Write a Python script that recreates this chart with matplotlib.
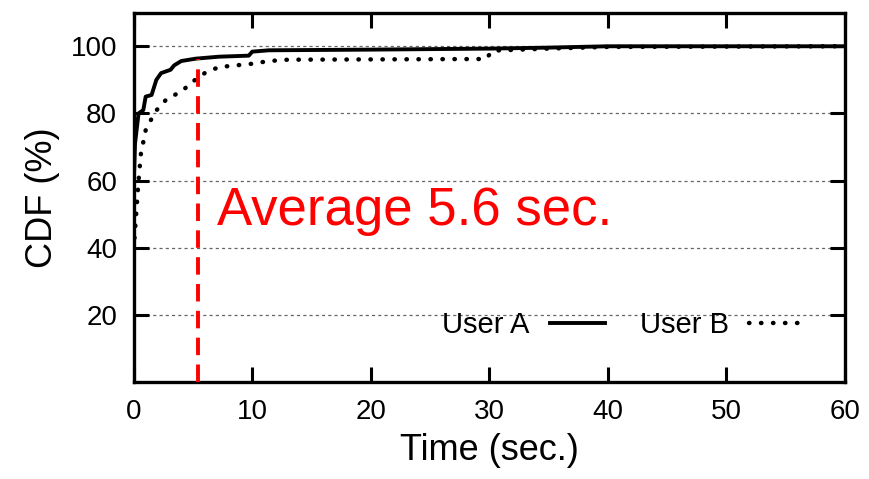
import matplotlib
matplotlib.use("Agg")
import matplotlib.pyplot as plt

plt.rcParams["font.family"] = ["Liberation Sans", "DejaVu Sans"]

# CDF curves (time in sec., CDF in %)
user_a_x = [0, 0, 0.1, 0.4, 0.8, 1.0, 1.5, 1.9, 2.3, 3.1, 3.4, 4.0, 5.2, 7.2, 9.7, 10.0, 11.4, 20, 30, 35, 40, 60]
user_a_y = [0, 60, 71, 80, 81, 85, 85.5, 90, 92, 93, 94.3, 95.6, 96.3, 96.9, 97.2, 98.4, 98.8, 99.0, 99.3, 99.6, 100, 100]

user_b_x = [0, 0, 0.2, 0.4, 0.6, 1.0, 1.8, 2.7, 4.1, 5.1, 6.1, 7.2, 10.0, 11.4, 13, 29.7, 30.3, 35, 40, 60]
user_b_y = [0, 40, 50, 60, 68, 75, 80.5, 84, 86.8, 89.8, 92.3, 93.8, 94.8, 95.6, 96.0, 96.2, 98.7, 99.3, 99.8, 100]

avg_x = 5.4
avg_y = 96.3
avg_label = "Average 5.6 sec."

x_ticks = [0, 10, 20, 30, 40, 50, 60]
y_ticks = [20, 40, 60, 80, 100]

fig = plt.figure(figsize=(8.69, 4.79), dpi=100)
ax = fig.add_axes([0.154, 0.2025, 0.818, 0.771])

for y in y_ticks:
    ax.axhline(y, color="#666666", lw=0.9, ls=(0, (2.5, 2.5)), zorder=1)

ax.plot(user_a_x, user_a_y, color="black", lw=2.8, label="User A", zorder=3)
ax.plot(user_b_x, user_b_y, color="black", lw=3.2, ls=(0, (0.1, 2.6)),
        dash_capstyle="round", label="User B", zorder=3)

ax.plot([avg_x, avg_x], [0, avg_y], color="red", lw=2.8, ls=(0, (4.5, 2.4)), zorder=4)
ax.text(7.0, 46.8, avg_label, color="red", fontsize=38, va="baseline", ha="left")

ax.set_xlim(0, 60)
ax.set_ylim(0, 110)
ax.set_xticks(x_ticks)
ax.set_yticks(y_ticks)
ax.tick_params(direction="in", length=11, width=2.2, labelsize=20,
               top=True, right=True, pad=12)
for s in ax.spines.values():
    s.set_linewidth(2.4)

ax.set_xlabel("Time (sec.)", fontsize=26, labelpad=6)
ax.set_ylabel("CDF (%)", fontsize=26, labelpad=8)

ax.legend(loc="center right", bbox_to_anchor=(0.944, 0.155), ncol=2,
          frameon=False, markerfirst=False, fontsize=21, handlelength=1.9,
          handletextpad=0.7, columnspacing=1.2, borderpad=0, borderaxespad=0)

fig.savefig("out.png", dpi=100)
plt.close(fig)
